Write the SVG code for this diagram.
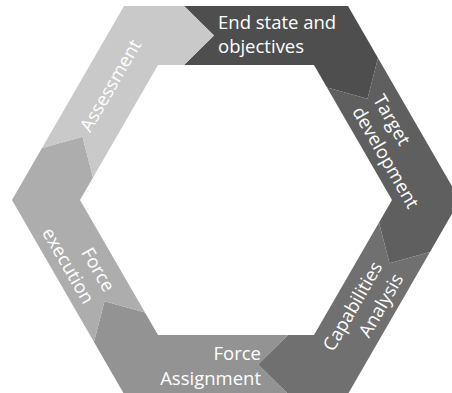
<svg xmlns="http://www.w3.org/2000/svg" width="452" height="393" viewBox="0 0 452 393">
<style>
.lbl{font-family:"Open Sans","Noto Sans","Liberation Sans",sans-serif;font-size:18.5px;fill:#ffffff;}
.end{text-anchor:end;}
</style>
<rect width="452" height="393" fill="#ffffff"/>
<g id="end-state">
<polygon points="184,6.02 348,6.01 378,57.98 367.5,98.68 327,87.42 314,64.9 184,64.9 214,35.46" fill="#4e4e4e"/>
<text class="lbl" x="218" y="29">End state and</text>
<text class="lbl" x="218" y="53">objectives</text>
</g>
<g id="target-development">
<polygon points="378,57.98 460,200 430,251.96 389.5,263.22 379,222.52 392,200 327,87.42 367.5,98.68" fill="#5f5f5f"/>
<g transform="translate(331,35.46) rotate(60)">
<text class="lbl" x="76" y="-4">Target</text>
<text class="lbl" x="76" y="20">development</text>
</g>
</g>
<g id="capabilities-analysis">
<polygon points="430,251.96 348,393.99 288,393.98 258,364.54 288,335.1 314,335.1 379,222.52 389.5,263.22" fill="#707070"/>
<g transform="translate(331,364.54) rotate(-60)">
<text class="lbl end" x="111" y="-4">Capabilities</text>
<text class="lbl end" x="111" y="20">Analysis</text>
</g>
</g>
<g id="force-assignment">
<polygon points="288,394 124,394 94,342.02 104.5,301.32 145,312.58 158,335.1 288,335.1 258,364.54" fill="#939393"/>
<text class="lbl end" x="261" y="360">Force</text>
<text class="lbl end" x="261" y="385">Assignment</text>
</g>
<g id="force-execution">
<polygon points="94,342.02 12,200 42,148.04 82.5,136.78 93,177.48 80,200 145,312.58 104.5,301.32" fill="#adadad"/>
<g transform="translate(46,200) rotate(60)">
<text class="lbl end" x="110" y="-4">Force</text>
<text class="lbl end" x="110" y="20">execution</text>
</g>
</g>
<g id="assessment">
<polygon points="42,148.04 124,6.01 184,6.02 214,35.46 184,64.9 158,64.9 93,177.48 82.5,136.78" fill="#c9c9c9"/>
<g transform="translate(46,200) rotate(-60)">
<text class="lbl" x="80" y="5">Assessment</text>
</g>
</g>
<g id="connectors"></g>
</svg>
